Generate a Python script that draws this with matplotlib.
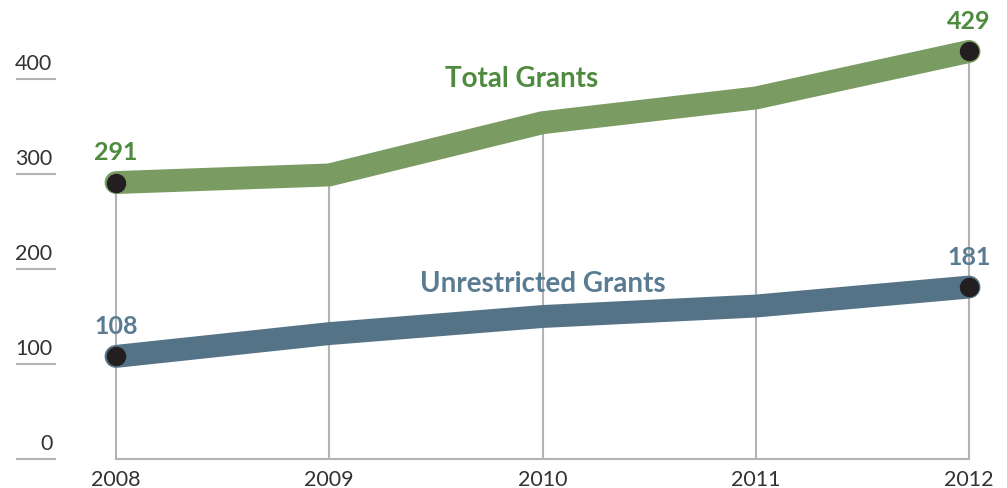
import matplotlib
matplotlib.use("Agg")
import matplotlib.pyplot as plt
import matplotlib.transforms as mtransforms

years = [2008, 2009, 2010, 2011, 2012]
total_grants = [291, 299, 354, 380, 429]
unrestricted_grants = [108, 132, 150, 161, 181]
y_ticks = [0, 100, 200, 300, 400]

GREEN = "#7a9c63"
GREEN_TXT = "#4f8b3e"
BLUE = "#557387"
BLUE_TXT = "#5a7c93"
DOT = "#231f20"
GRAY = "#b3b3b3"

plt.rcParams["font.family"] = ["Lato", "DejaVu Sans"]

fig = plt.figure(figsize=(10.07, 4.89), dpi=100)
ax = fig.add_axes([0, 0, 1, 1])
ax.set_xlim(2007.456, 2012.178)
ax.set_ylim(-30.5, 484.2)
ax.axis("off")

# vertical guides from baseline up to the total line
ax.vlines(years, 0, total_grants, color=GRAY, lw=1.5, zorder=1)
ax.plot([years[0], years[-1]], [0, 0], color=GRAY, lw=1.5, zorder=1)

# short y tick rules with labels above them
blend = mtransforms.blended_transform_factory(ax.transAxes, ax.transData)
ax.hlines(y_ticks, 0.016, 0.056, color=GRAY, lw=1.5, transform=blend)
for v in y_ticks:
    ax.annotate(str(v), (0.052, v), xycoords=blend, xytext=(0, 4),
                textcoords="offset points", ha="right", va="bottom",
                fontsize=15.5, color="#333333")

for yr in years:
    ax.annotate(str(yr), (yr, 0), xytext=(0, -7), textcoords="offset points",
                ha="center", va="top", fontsize=15.5, color="#333333")

for vals, col, txt_col in [(total_grants, GREEN, GREEN_TXT),
                           (unrestricted_grants, BLUE, BLUE_TXT)]:
    ax.plot(years, vals, color=col, lw=16.5, solid_capstyle="round",
            solid_joinstyle="miter", zorder=2)
    ends = [years[0], years[-1]]
    end_vals = [vals[0], vals[-1]]
    ax.plot(ends, end_vals, "o", color=DOT, ms=13, zorder=3)
    for x, v in zip(ends, end_vals):
        ax.annotate(str(v), (x, v), xytext=(0, 14), textcoords="offset points",
                    ha="center", va="bottom", fontsize=18, fontweight="bold",
                    color=txt_col)

ax.annotate("Total Grants", (2009.9, total_grants[2]), xytext=(0, 23),
            textcoords="offset points", ha="center", va="bottom",
            fontsize=20, fontweight="bold", color=GREEN_TXT)
ax.annotate("Unrestricted Grants", (2010.0, unrestricted_grants[2]),
            xytext=(0, 15), textcoords="offset points", ha="center",
            va="bottom", fontsize=20, fontweight="bold", color=BLUE_TXT)

fig.savefig("out.png", dpi=100)
